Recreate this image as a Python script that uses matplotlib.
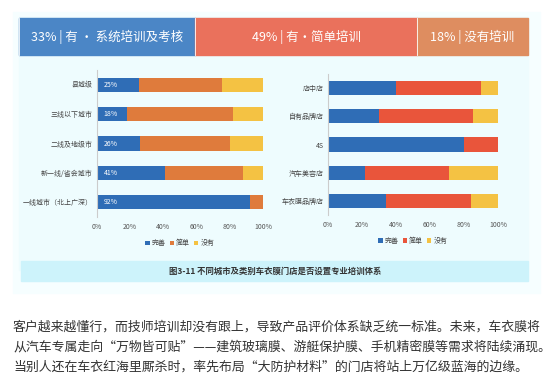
import matplotlib.pyplot as plt
from matplotlib.patches import Rectangle

plt.rcParams['font.family'] = ['Noto Sans CJK SC', 'DejaVu Sans']

W, H = 553, 392

# banner
banner_labels = ['33% | 有 · 系统培训及考核', '49% | 有·简单培训', '18% | 没有培训']
banner_colors = ['#4b86c6', '#ea715c', '#de8d60']

# left chart: city tiers (top to bottom)
city_cats = ['县城级', '三线以下城市', '二线及地级市', '新一线/省会城市', '一线城市（北上广深）']
city_full = [25, 18, 26, 41, 92]
city_simple = [50, 64, 54, 47, 8]
city_none = [25, 18, 20, 12, 0]

# right chart: store types (top to bottom)
store_cats = ['店中店', '自有品牌店', '4S', '汽车美容店', '车衣膜品牌店']
store_full = [40, 30, 80, 22, 34]
store_simple = [50, 55, 20, 49, 50]
store_none = [10, 15, 0, 29, 16]

legend_names = ['完善', '简单', '没有']
caption = '图3-11 不同城市及类别车衣膜门店是否设置专业培训体系'
body = [
    '客户越来越懂行，而技师培训却没有跟上，导致产品评价体系缺乏统一标准。未来，车衣膜将',
    '从汽车专属走向“万物皆可贴”——建筑玻璃膜、游艇保护膜、手机精密膜等需求将陆续涌现。',
    '当别人还在车衣红海里厮杀时，率先布局“大防护材料”的门店将站上万亿级蓝海的边缘。',
]

fig = plt.figure(figsize=(W / 100, H / 100), dpi=100)
bg = fig.add_axes([0, 0, 1, 1])
bg.set_xlim(0, W)
bg.set_ylim(H, 0)
bg.axis('off')

# panels
bg.add_patch(Rectangle((13, 12), 527, 281, color='#f6feff', zorder=0))
bg.add_patch(Rectangle((19, 17), 509, 253, color='#eefcfe', zorder=1))
bg.add_patch(Rectangle((21, 261), 507, 20, color='#cdf3fb', zorder=2))
bg.text(275, 271, caption, ha='center', va='center', fontsize=6,
        fontweight='bold', color='#333333', zorder=3)

# banner segments
edges = [19, 195, 417, 528]
for i in range(3):
    bg.add_patch(Rectangle((edges[i], 18), edges[i + 1] - edges[i], 37,
                           color=banner_colors[i], zorder=3))
    bg.plot([edges[i], edges[i]], [18, 55], color='white', lw=0.6, zorder=4)
    bg.text((edges[i] + edges[i + 1]) / 2, 36.5, banner_labels[i], ha='center',
            va='center', color='white', fontsize=9, zorder=5)

# body text
for i, line in enumerate(body):
    bg.text(13, 327 + i * 20, line, ha='left', va='center', fontsize=9.3,
            color='#333333')


def px_axes(x0, x1, y0, y1):
    return fig.add_axes([x0 / W, 1 - y1 / H, (x1 - x0) / W, (y1 - y0) / H])


def stacked(ax, cats, full, simple, none, colors, show_labels, bh):
    y = list(range(len(cats)))
    ax.barh(y, full, color=colors[0], height=bh, label=legend_names[0])
    ax.barh(y, simple, left=full, color=colors[1], height=bh, label=legend_names[1])
    left2 = [a + b for a, b in zip(full, simple)]
    ax.barh(y, none, left=left2, color=colors[2], height=bh, label=legend_names[2])
    if show_labels:
        for yi, v in zip(y, full):
            ax.text(4, yi, f'{v}%', color='white', fontsize=5, va='center')
    ax.set_xlim(0, 100)
    ax.set_ylim(len(cats) - 0.5, -0.5)
    ax.set_yticks(y)
    ax.set_yticklabels(cats, fontsize=5, color='#444444')
    ax.set_xticks([0, 20, 40, 60, 80, 100])
    ax.set_xticklabels(['0%', '20%', '40%', '60%', '80%', '100%'],
                       fontsize=5, color='#555555')
    ax.tick_params(length=0, pad=3)
    ax.tick_params(axis='x', pad=4)
    for s in ['top', 'right', 'bottom']:
        ax.spines[s].set_visible(False)
    ax.spines['left'].set_color('#cccccc')
    ax.spines['left'].set_linewidth(0.8)
    ax.patch.set_alpha(0)


ax1 = px_axes(97, 263, 70, 217)
stacked(ax1, city_cats, city_full, city_simple, city_none,
        ['#2f6db6', '#df7b3c', '#f4c243'], True, 0.48)
ax1.legend(loc='upper center', bbox_to_anchor=(0.5, -0.11), ncol=3, frameon=False,
           fontsize=5, handlelength=0.6, handleheight=0.6, handletextpad=0.3,
           columnspacing=0.6, labelcolor='#444444')

ax2 = px_axes(328, 498, 74, 215)
stacked(ax2, store_cats, store_full, store_simple, store_none,
        ['#2f6db6', '#e9553b', '#f4c243'], False, 0.5)
ax2.legend(loc='upper center', bbox_to_anchor=(0.5, -0.11), ncol=3, frameon=False,
           fontsize=5, handlelength=0.6, handleheight=0.6, handletextpad=0.3,
           columnspacing=0.6, labelcolor='#444444')

fig.savefig('out.png', dpi=100)
